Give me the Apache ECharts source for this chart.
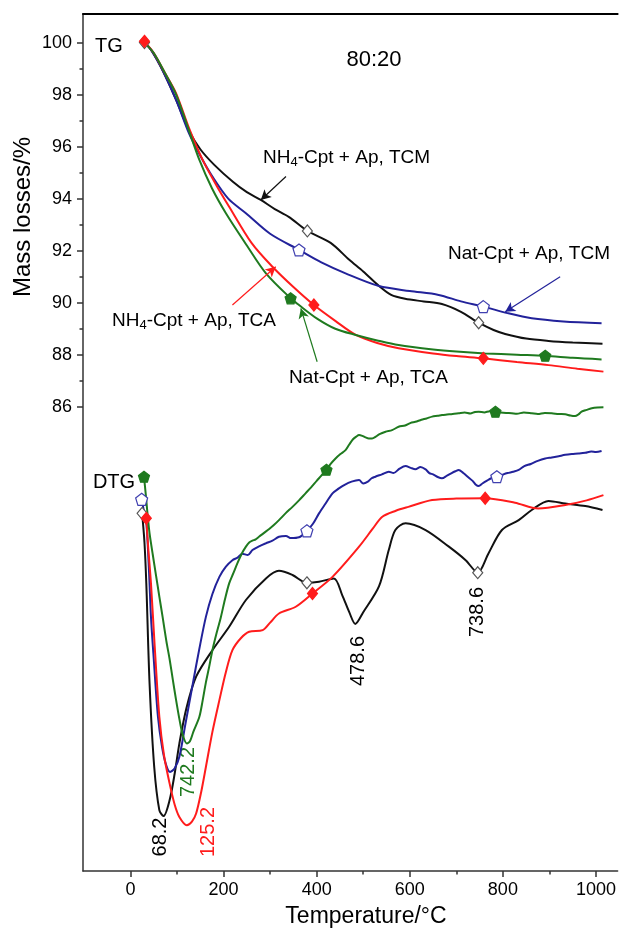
<!DOCTYPE html>
<html><head><meta charset="utf-8">
<script src="https://cdn.jsdelivr.net/npm/echarts@6/dist/echarts.min.js"></script>
<style>html,body{margin:0;padding:0;background:#fff}#c{width:619px;height:934px}</style>
</head><body><div id="c"></div>
<script>
// ---- axis ticks ----
const xTicksMajor = [0, 200, 400, 600, 800, 1000];
const xTicksMinor = [100, 300, 500, 700, 900];
const yTicksMajor = [86, 88, 90, 92, 94, 96, 98, 100];
const yTicksMinor = [87, 89, 91, 93, 95, 97, 99];

// ---- TG curves [temperature, value] ----
const tgNH4TCM = [[30,100],[45,99.7],[70,98.9],[98,97.8],[126,96.6],[150,95.9],[180,95.3],[220,94.65],[250,94.25],[280,93.95],[310,93.6],[340,93.3],[380,92.76],[430,92.3],[470,91.65],[500,91.2],[534,90.64],[560,90.3],[590,90.15],[630,90.05],[669,89.95],[710,89.65],[748,89.23],[780,88.95],[805,88.8],[850,88.62],[898,88.53],[950,88.47],[1014,88.42]];
const tgNatTCM = [[30,100],[45,99.7],[70,98.9],[98,97.8],[126,96.5],[150,95.65],[176,94.85],[210,94.0],[248,93.44],[300,92.65],[362,92.03],[410,91.55],[462,91.13],[534,90.64],[600,90.45],[662,90.3],[710,90.05],[758,89.85],[810,89.6],[862,89.4],[930,89.28],[1012,89.21]];
const tgNH4TCA = [[30,100.05],[50,99.6],[75,98.8],[98,98.05],[126,96.7],[155,95.49],[185,94.5],[212,93.69],[260,92.3],[305,91.38],[350,90.6],[394,89.91],[440,89.3],[484,88.76],[530,88.45],[576,88.25],[650,88.05],[700,87.95],[758,87.86],[830,87.72],[898,87.6],[960,87.46],[1016,87.35]];
const tgNatTCA = [[30,100],[50,99.6],[75,98.8],[98,98.0],[126,96.6],[148,95.49],[175,94.4],[205,93.44],[250,92.2],[291,91.13],[344,90.17],[362,89.91],[400,89.4],[440,89.0],[484,88.76],[530,88.55],[576,88.37],[650,88.2],[700,88.12],[762,88.05],[830,88.0],[891,87.96],[950,87.88],[1012,87.82]];

// ---- DTG curves [temperature, plotted value] ----
const dtgNH4TCM = [[25,81.9],[30,80.8],[34,79.21],[41,75.36],[51,72.15],[62,70.49],[71,70.26],[84,70.87],[95,71.9],[105,73.05],[120,74.4],[141,75.62],[176,76.64],[212,77.54],[248,78.57],[291,79.4],[319,79.69],[348,79.53],[379,79.23],[405,79.27],[437,79.4],[455,78.75],[470,78.1],[483,77.65],[500,78.1],[534,79.1],[555,80.5],[569,81.26],[591,81.52],[634,81.26],[684,80.62],[720,80.1],[746,79.62],[769,80.36],[798,81.26],[834,81.64],[862,82.03],[898,82.38],[934,82.28],[977,82.18],[1014,82.03]];
const dtgNatTCM = [[24,82.44],[30,81.9],[34,81.6],[40,79.6],[44,77.92],[50,76.3],[59,74.08],[68,72.9],[77,72.2],[85,71.96],[95,72.1],[105,72.54],[118,73.8],[134,75.36],[148,76.7],[162,77.92],[176,78.8],[191,79.46],[205,79.85],[219,80.1],[230,80.2],[240,80.35],[252,80.3],[262,80.49],[275,80.62],[291,80.75],[305,80.85],[319,81.0],[334,81.03],[345,80.95],[362,80.98],[379,81.23],[392,81.5],[405,81.9],[418,82.25],[434,82.67],[447,82.85],[460,83.0],[475,83.12],[491,83.18],[500,83.05],[510,83.12],[518,83.25],[526,83.31],[540,83.4],[555,83.5],[565,83.45],[578,83.62],[591,83.72],[602,83.65],[612,83.6],[623,83.68],[634,83.59],[642,83.45],[650,83.4],[660,83.3],[669,83.25],[680,83.35],[690,83.45],[698,83.52],[705,83.57],[715,83.45],[725,83.3],[735,83.15],[742,83.0],[748,82.95],[756,83.05],[765,83.15],[775,83.25],[787,83.31],[798,83.38],[810,83.45],[822,83.5],[834,83.57],[846,83.72],[860,83.8],[875,83.92],[891,84.01],[905,84.05],[920,84.1],[934,84.15],[948,84.18],[962,84.2],[977,84.23],[990,84.28],[1000,84.26],[1012,84.3]];
const dtgNH4TCA = [[34,81.71],[38,80.6],[44,79.21],[52,76.8],[62,74.08],[72,72.6],[84,71.52],[95,70.7],[105,70.23],[121,69.91],[132,70.05],[141,70.36],[152,71.2],[162,72.15],[176,73.5],[191,74.72],[205,75.8],[219,76.64],[237,77.1],[255,77.35],[284,77.41],[300,77.7],[319,78.05],[355,78.31],[391,78.82],[434,79.46],[491,80.62],[520,81.3],[541,81.77],[570,82.0],[597,82.15],[648,82.41],[700,82.47],[762,82.48],[826,82.31],[876,82.09],[934,82.22],[980,82.4],[1016,82.6]];
const dtgNatTCA = [[29,83.31],[33,82.6],[37,81.8],[41,81.13],[48,80.3],[55,79.5],[62,78.7],[69,77.92],[77,77.0],[84,76.3],[91,75.5],[98,74.72],[105,74.0],[112,73.4],[121,73.05],[128,73.15],[135,73.5],[148,74.08],[155,74.7],[162,75.4],[169,76.0],[176,76.64],[185,77.3],[194,77.9],[203,78.6],[212,79.21],[221,79.6],[230,80.0],[239,80.35],[248,80.62],[255,80.78],[262,80.85],[269,80.9],[276,81.0],[287,81.15],[298,81.3],[308,81.45],[319,81.64],[333,81.9],[348,82.15],[362,82.4],[376,82.67],[388,82.9],[400,83.15],[410,83.35],[421,83.58],[430,83.8],[440,84.0],[451,84.18],[462,84.33],[470,84.55],[478,84.75],[485,84.85],[491,84.91],[498,84.88],[505,84.82],[512,84.78],[519,84.78],[527,84.85],[535,84.95],[548,85.04],[562,85.1],[576,85.23],[590,85.28],[602,85.38],[612,85.42],[625,85.5],[636,85.55],[648,85.62],[660,85.65],[669,85.68],[680,85.7],[692,85.72],[705,85.75],[718,85.78],[730,85.74],[740,85.8],[748,85.81],[760,85.78],[772,85.83],[784,85.81],[795,85.78],[807,85.76],[819,85.75],[830,85.73],[845,85.78],[862,85.75],[875,85.72],[890,85.76],[905,85.75],[920,85.72],[934,85.71],[945,85.66],[955,85.64],[962,85.7],[969,85.81],[980,85.88],[991,85.94],[1003,85.97],[1016,85.98]];

// ---- marker points ----
const mkNH4TCM = [[30,100],[380,92.76],[748,89.23],[25,81.9],[379,79.23],[746,79.62]];
const mkNatTCM = [[362,92.03],[758,89.85],[24,82.44],[379,81.23],[787,83.31]];
const mkNH4TCA = [[30,100.05],[394,89.91],[758,87.86],[34,81.71],[391,78.82],[762,82.48]];
const mkNatTCA = [[344,90.17],[891,87.96],[29,83.31],[421,83.58],[784,85.81]];

// ---- annotation arrows (data coords: from, to) ----
const arrowNH4TCM = [[334,94.85],[280,93.95]];
const arrowNatTCM = [[923,91.0],[805,89.65]];
const arrowNH4TCA = [[219,89.91],[312,91.38]];
const arrowNatTCA = [[401,87.73],[366,89.78]];

const FONT = "'Liberation Sans', Arial, Helvetica, sans-serif";
const C_BLACK = '#111111', C_BLUE = '#22229a', C_RED = '#ff1c1c', C_GREEN = '#1f7a1f';
const PENT = 'path://M50,0 L97.55,34.55 L79.39,90.45 L20.61,90.45 L2.45,34.55 Z';
const X_MIN = -102, X_MAX = 1046.5, Y_MIN = 68.15, Y_MAX = 101.1;

function lineS(name, data, color, arrow) {
  const s = {
    name, type: 'line', data, showSymbol: false, smooth: 0.3, z: 3,
    lineStyle: { color, width: 2 }, itemStyle: { color }, silent: true, animation: false
  };
  if (arrow) {
    s.markLine = {
      silent: true, animation: false, symbol: ['none', 'arrow'], symbolSize: [8, 10],
      lineStyle: { color, width: 1.2, type: 'solid' }, label: { show: false },
      emphasis: { disabled: true },
      data: [[{ coord: arrow[0] }, { coord: arrow[1] }]]
    };
  }
  return s;
}
function markS(data, symbol, fill, border, size) {
  return {
    type: 'scatter', data, symbol, symbolSize: size, z: 6, silent: true, animation: false,
    itemStyle: { color: fill, borderColor: border, borderWidth: 1.2, opacity: 1 }
  };
}
function txt(text, x, y, size, color, rot, align) {
  return {
    type: 'text', x, y, rotation: rot || 0, silent: true,
    style: { text, fontSize: size, fontFamily: FONT, fill: color || '#000',
      align: align || 'center', textAlign: align || 'center', verticalAlign: 'middle', textVerticalAlign: 'middle' }
  };
}
function richTxt(parts, x, y, align) {
  return {
    type: 'text', x, y, silent: true,
    style: {
      text: parts, fontSize: 19, fontFamily: FONT, fill: '#000',
      align: align || 'left', textAlign: align || 'left', verticalAlign: 'middle', textVerticalAlign: 'middle',
      rich: {
        n: { fontSize: 19, fontFamily: FONT, fill: '#000', color: '#000' },
        s: { fontSize: 13, fontFamily: FONT, fill: '#000', color: '#000', padding: [9, 0, 0, 0] }
      }
    }
  };
}

const chart = echarts.init(document.getElementById('c'), null, { renderer: 'canvas' });
const axLine = { show: true, onZero: false, lineStyle: { color: '#333', width: 1.5 } };
const noLine = { show: false, onZero: false };
const lbl = { fontSize: 18, color: '#000', fontFamily: FONT, formatter: v => String(v) };
chart.setOption({
  backgroundColor: '#fff',
  animation: false,
  grid: { left: 83, top: 14, right: 0, bottom: 63, show: false },
  xAxis: [
    { type: 'value', min: X_MIN, max: X_MAX, position: 'bottom', axisLine: axLine,
      axisTick: { show: true, inside: false, customValues: xTicksMajor, length: 6, lineStyle: { color: '#333', width: 1.5 } },
      axisLabel: Object.assign({ show: true, customValues: xTicksMajor, margin: 10 }, lbl),
      splitLine: { show: false } },
    { type: 'value', min: X_MIN, max: X_MAX, position: 'bottom', offset: 0, axisLine: noLine,
      axisTick: { show: true, inside: false, customValues: xTicksMinor, length: 3.5, lineStyle: { color: '#333', width: 1.5 } },
      axisLabel: { show: false }, splitLine: { show: false } },
    { type: 'value', min: X_MIN, max: X_MAX, position: 'top', offset: 0,
      axisLine: { show: true, onZero: false, lineStyle: { color: '#000', width: 2 } },
      axisTick: { show: false }, axisLabel: { show: false }, splitLine: { show: false } }
  ],
  yAxis: [
    { type: 'value', min: Y_MIN, max: Y_MAX, position: 'left', axisLine: axLine,
      axisTick: { show: true, inside: false, customValues: yTicksMajor, length: 6, lineStyle: { color: '#333', width: 1.5 } },
      axisLabel: Object.assign({ show: true, customValues: yTicksMajor, margin: 11 }, lbl),
      splitLine: { show: false } },
    { type: 'value', min: Y_MIN, max: Y_MAX, position: 'left', offset: 0, axisLine: noLine,
      axisTick: { show: true, inside: false, customValues: yTicksMinor, length: 3.5, lineStyle: { color: '#333', width: 1.5 } },
      axisLabel: { show: false }, splitLine: { show: false } }
  ],
  series: [
    lineS('NH4-Cpt + Ap, TCM TG', tgNH4TCM, C_BLACK, arrowNH4TCM),
    lineS('Nat-Cpt + Ap, TCM TG', tgNatTCM, C_BLUE, arrowNatTCM),
    lineS('NH4-Cpt + Ap, TCA TG', tgNH4TCA, C_RED, arrowNH4TCA),
    lineS('Nat-Cpt + Ap, TCA TG', tgNatTCA, C_GREEN, arrowNatTCA),
    lineS('NH4-Cpt + Ap, TCM DTG', dtgNH4TCM, C_BLACK),
    lineS('Nat-Cpt + Ap, TCM DTG', dtgNatTCM, C_BLUE),
    lineS('NH4-Cpt + Ap, TCA DTG', dtgNH4TCA, C_RED),
    lineS('Nat-Cpt + Ap, TCA DTG', dtgNatTCA, C_GREEN),
    markS(mkNH4TCM, 'diamond', '#ffffff', '#555555', [10, 12]),
    markS(mkNatTCM, PENT, '#ffffff', '#4040b0', 12),
    markS(mkNH4TCA, 'diamond', C_RED, C_RED, [10, 12]),
    markS(mkNatTCA, PENT, C_GREEN, C_GREEN, 11)
  ],
  graphic: [
    txt('TG', 109, 46, 20),
    txt('80:20', 374, 60, 22),
    txt('DTG', 114, 482, 20),
    richTxt('{n|NH}{s|4}{n|-Cpt + Ap, TCM}', 263, 158, 'left'),
    txt('Nat-Cpt + Ap, TCM', 610, 254, 19, '#000', 0, 'right'),
    richTxt('{n|NH}{s|4}{n|-Cpt + Ap, TCA}', 112, 321, 'left'),
    txt('Nat-Cpt + Ap, TCA', 448, 378, 19, '#000', 0, 'right'),
    txt('68.2', 160, 837, 20, '#000', Math.PI / 2),
    txt('742.2', 188, 772, 20, C_GREEN, Math.PI / 2),
    txt('125.2', 208, 832, 20, C_RED, Math.PI / 2),
    txt('478.6', 358, 661, 20, '#000', Math.PI / 2),
    txt('738.6', 477, 612, 20, '#000', Math.PI / 2),
    txt('Mass losses/%', 23, 217, 24, '#000', Math.PI / 2),
    txt('Temperature/°C', 366, 917, 23)
  ]
});
</script></body></html>
